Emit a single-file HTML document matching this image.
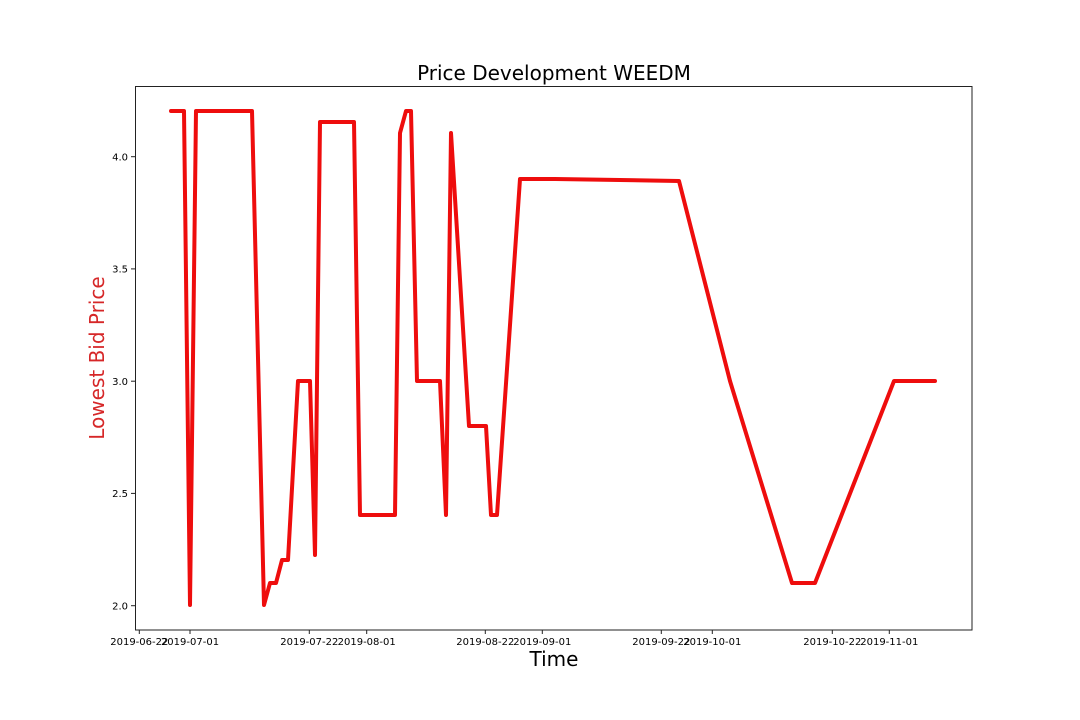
<!DOCTYPE html>
<html><head><meta charset="utf-8"><style>
html,body{margin:0;padding:0;background:#fff;}
svg{display:block;font-family:"DejaVu Sans","Liberation Sans",sans-serif;}
</style></head><body>
<svg width="1080" height="720" viewBox="0 0 1080 720" xmlns="http://www.w3.org/2000/svg">
<rect width="1080" height="720" fill="#fff"/>
<text x="554" y="80" font-size="20" text-anchor="middle" fill="#000">Price Development WEEDM</text>
<polyline fill="none" stroke="#ee0d0d" stroke-width="4" stroke-linejoin="round" stroke-linecap="round" points="171,111 184,111 190,605 196,111 252,111 264,605 270,583 276,583 282,560 288,560 298,381 310,381 315,555 320,122 354,122 360,515 395,515 400,133 406,111 411,111 417,381 440,381 446,515 451,133 469,426 486,426 491,515 497,515 520,179 555,179 679,181 730,381 792,583 815,583 894,381 935,381"/>
<rect x="135.5" y="86.5" width="836.5" height="543.5" fill="none" stroke="#222" stroke-width="1"/>
<g stroke="#222" stroke-width="1">
<line x1="131" y1="156.7" x2="135" y2="156.7"/>
<line x1="131" y1="268.9" x2="135" y2="268.9"/>
<line x1="131" y1="381.2" x2="135" y2="381.2"/>
<line x1="131" y1="493.4" x2="135" y2="493.4"/>
<line x1="131" y1="605.7" x2="135" y2="605.7"/>
<line x1="139.3" y1="630" x2="139.3" y2="634"/>
<line x1="190" y1="630" x2="190" y2="634"/>
<line x1="309.3" y1="630" x2="309.3" y2="634"/>
<line x1="366.7" y1="630" x2="366.7" y2="634"/>
<line x1="485.3" y1="630" x2="485.3" y2="634"/>
<line x1="542.3" y1="630" x2="542.3" y2="634"/>
<line x1="661.3" y1="630" x2="661.3" y2="634"/>
<line x1="712.3" y1="630" x2="712.3" y2="634"/>
<line x1="832.3" y1="630" x2="832.3" y2="634"/>
<line x1="889.3" y1="630" x2="889.3" y2="634"/>
</g>
<g font-size="10" fill="#000" text-anchor="end">
<text x="128" y="160.5">4.0</text>
<text x="128" y="272.7">3.5</text>
<text x="128" y="385">3.0</text>
<text x="128" y="497.2">2.5</text>
<text x="128" y="609.5">2.0</text>
</g>
<g font-size="10" fill="#000" text-anchor="middle">
<text x="139.3" y="645">2019-06-22</text>
<text x="190" y="645">2019-07-01</text>
<text x="309.3" y="645">2019-07-22</text>
<text x="366.7" y="645">2019-08-01</text>
<text x="485.3" y="645">2019-08-22</text>
<text x="542.3" y="645">2019-09-01</text>
<text x="661.3" y="645">2019-09-22</text>
<text x="712.3" y="645">2019-10-01</text>
<text x="832.3" y="645">2019-10-22</text>
<text x="889.3" y="645">2019-11-01</text>
</g>
<text x="554" y="666" font-size="20" text-anchor="middle" fill="#000">Time</text>
<text transform="translate(104,358) rotate(-90)" font-size="20" text-anchor="middle" fill="#d62728">Lowest Bid Price</text>
</svg>
</body></html>
